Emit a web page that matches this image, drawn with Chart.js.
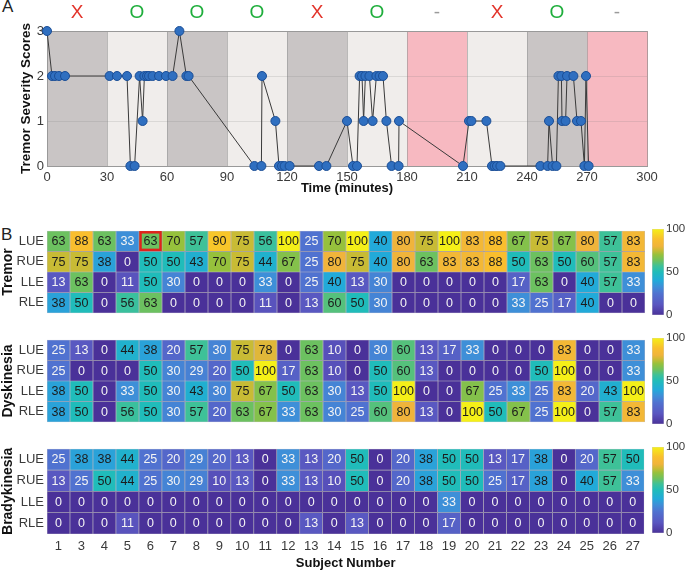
<!DOCTYPE html>
<html>
<head>
<meta charset="utf-8">
<script src="https://cdn.jsdelivr.net/npm/chart.js@4.4.1/dist/chart.umd.min.js"></script>
<style>
body { margin: 0; background: #fff; font-family: "Liberation Sans", Arial, sans-serif; }
#wrap { position: relative; width: 685px; height: 571px; overflow: hidden; }
canvas { position: absolute; }
.lbl { position: absolute; font-size: 17px; color: #222; }
</style>
</head>
<body>
<div id="wrap">
  <div class="lbl" style="left:2px;top:-3px">A</div>
  <div class="lbl" style="left:1px;top:225px">B</div>
  <canvas id="top" width="685" height="200" style="left:0;top:0"></canvas>
  <canvas id="hmTremor" width="645" height="104" style="left:0;top:220px"></canvas>
  <canvas id="cbTremor" width="45" height="104" style="left:640px;top:220px"></canvas>
  <canvas id="hmDysk" width="645" height="104" style="left:0;top:329px"></canvas>
  <canvas id="cbDysk" width="45" height="104" style="left:640px;top:329px"></canvas>
  <canvas id="hmBrady" width="645" height="133" style="left:0;top:438px"></canvas>
  <canvas id="cbBrady" width="45" height="104" style="left:640px;top:438px"></canvas>
</div>
<script>
// ---- panel A data ----
const times = [0, 2.5, 4, 6, 9, 31.3, 35, 40, 41.7, 43.8, 46.3, 47.8, 48.7, 50, 51, 52.8, 56, 59.5, 62.8, 66.2,
  69.7, 70.8, 103.7, 107.2, 107.5, 114.2, 116, 117.5, 118.8, 121.3, 136, 139.7, 150, 153, 155, 156.3, 157.5,
  158.3, 159.2, 161.2, 162.8, 164.7, 166.3, 168, 169.7, 172.3, 175.8, 176, 208, 211, 212.2, 219.7, 222.5, 223.8,
  225, 226.7, 246.7, 250.3, 251, 252.8, 254.7, 255.7, 257.2, 257.5, 259.3, 260, 263.2, 265, 267, 268.7, 269.5, 270.8];
const scores = [3, 2, 2, 2, 2, 2, 2, 2, 0, 0, 2, 1, 2, 2, 2, 2, 2, 2, 2, 3,
  2, 2, 0, 0, 2, 1, 0, 0, 0, 0, 0, 0, 1, 0, 0, 2, 2,
  1, 2, 2, 1, 2, 2, 2, 1, 0, 0, 1, 0, 1, 1, 1, 0, 0,
  0, 0, 0, 0, 1, 0, 0, 2, 2, 1, 1, 2, 2, 1, 1, 0, 2, 0];
const bandStarts = [0, 30, 60, 90, 120, 150, 180, 210, 240, 270];
const bandKinds = ['dark', 'light', 'dark', 'light', 'dark', 'light', 'pink', 'light', 'dark', 'pink'];
const bandMarks = ['X', 'O', 'O', 'O', 'X', 'O', '-', 'X', 'O', '-'];
const xTicksA = [0, 30, 60, 90, 120, 150, 180, 210, 240, 270, 300];

// ---- panel B data ----
const subjects = [1, 3, 4, 5, 6, 7, 8, 9, 10, 11, 12, 13, 14, 15, 16, 17, 18, 19, 20, 21, 22, 23, 24, 25, 26, 27];
const rowNames = ['LUE', 'RUE', 'LLE', 'RLE'];

const tremorLUE = [63, 88, 63, 33, 63, 70, 57, 90, 75, 56, 100, 25, 70, 100, 40, 80, 75, 100, 83, 88, 67, 75, 67, 80, 57, 83];
const tremorRUE = [75, 75, 38, 0, 50, 50, 43, 70, 75, 44, 67, 25, 80, 75, 40, 80, 63, 83, 83, 88, 50, 63, 50, 60, 57, 83];
const tremorLLE = [13, 63, 0, 11, 50, 30, 0, 0, 0, 33, 0, 25, 40, 13, 30, 0, 0, 0, 0, 0, 17, 63, 0, 40, 57, 33];
const tremorRLE = [38, 50, 0, 56, 63, 0, 0, 0, 0, 11, 0, 13, 60, 50, 30, 0, 0, 0, 0, 0, 33, 25, 17, 40, 0, 0];

const dyskLUE = [25, 13, 0, 44, 38, 20, 57, 30, 75, 78, 0, 63, 10, 0, 30, 60, 13, 17, 33, 0, 0, 0, 83, 0, 0, 33];
const dyskRUE = [25, 0, 0, 0, 50, 30, 29, 20, 50, 100, 17, 63, 10, 0, 50, 60, 13, 0, 0, 0, 0, 50, 100, 0, 0, 33];
const dyskLLE = [38, 50, 0, 33, 50, 30, 43, 30, 75, 67, 50, 63, 30, 13, 50, 100, 0, 0, 67, 25, 33, 25, 83, 20, 43, 100];
const dyskRLE = [38, 50, 0, 56, 50, 30, 57, 20, 63, 67, 33, 63, 30, 25, 60, 80, 13, 0, 100, 50, 67, 25, 100, 0, 57, 83];

const bradyLUE = [25, 38, 38, 44, 25, 20, 29, 20, 13, 0, 33, 13, 20, 50, 0, 20, 38, 50, 50, 13, 17, 38, 0, 20, 57, 50];
const bradyRUE = [13, 25, 50, 44, 25, 30, 29, 10, 13, 0, 33, 13, 10, 50, 0, 20, 38, 50, 50, 25, 17, 38, 0, 40, 57, 33];
const bradyLLE = [0, 0, 0, 0, 0, 0, 0, 0, 0, 0, 0, 0, 0, 0, 0, 0, 0, 33, 0, 0, 0, 0, 0, 0, 0, 0];
const bradyRLE = [0, 0, 0, 11, 0, 0, 0, 0, 0, 0, 0, 13, 0, 13, 0, 0, 0, 17, 0, 0, 0, 0, 0, 0, 0, 0];

const cbTicks = [0, 50, 100];
const highlight = { row: 'LUE', subject: 6 };

// ---- styling ----
Chart.defaults.font.family = '"Liberation Sans", Arial, sans-serif';
Chart.defaults.color = '#3a3a3a';

const bandColors = { dark: '#c9c5c5', light: '#f0edeb', pink: '#f7b9c1' };
const markColors = { 'X': '#e2332a', 'O': '#1fae3c', '-': '#9a9a9a' };

// parula-like map
const cmap = [
  [0, 74, 49, 153], [12, 90, 86, 192], [25, 80, 114, 208], [33, 62, 143, 216], [40, 34, 170, 217],
  [50, 32, 188, 186], [57, 62, 193, 152], [63, 108, 193, 96], [70, 150, 193, 60], [75, 200, 187, 53],
  [80, 240, 180, 59], [88, 249, 190, 46], [100, 245, 240, 24]
];
function colorFor(v) {
  for (let i = 1; i < cmap.length; i++) {
    if (v <= cmap[i][0]) {
      const a = cmap[i - 1], b = cmap[i];
      const t = (v - a[0]) / (b[0] - a[0]);
      const c = [1, 2, 3].map(k => Math.round(a[k] + (b[k] - a[k]) * t));
      return `rgb(${c[0]},${c[1]},${c[2]})`;
    }
  }
  return 'rgb(245,240,24)';
}

// ---- panel A ----
const bandsPlugin = {
  id: 'bands',
  beforeDraw(chart) {
    const { ctx, chartArea: a, scales: { x } } = chart;
    ctx.save();
    bandStarts.forEach((s, i) => {
      const x0 = x.getPixelForValue(s), x1 = x.getPixelForValue(s + 30);
      ctx.fillStyle = bandColors[bandKinds[i]];
      ctx.fillRect(x0, a.top, x1 - x0, a.bottom - a.top);
    });
    ctx.restore();
  },
  afterDraw(chart) {
    const { ctx, chartArea: a } = chart;
    ctx.save();
    ctx.strokeStyle = '#b09a9c';
    ctx.lineWidth = 1;
    ctx.beginPath();
    ctx.moveTo(a.right + 0.5, a.top);
    ctx.lineTo(a.right + 0.5, a.bottom);
    ctx.stroke();
    ctx.restore();
  }
};

new Chart(document.getElementById('top'), {
  type: 'scatter',
  data: {
    datasets: [{
      data: times.map((t, i) => ({ x: t, y: scores[i] })),
      showLine: true,
      clip: 8,
      borderColor: '#3a3a3a',
      borderWidth: 1,
      pointRadius: 4.5,
      pointBackgroundColor: '#2f6fc0',
      pointBorderColor: '#1b4e96',
      pointBorderWidth: 1
    }]
  },
  options: {
    responsive: false,
    animation: false,
    layout: { padding: { left: 0, right: 38, top: 0, bottom: 0 } },
    plugins: { legend: { display: false }, tooltip: { enabled: false } },
    scales: {
      x: {
        type: 'linear', min: 0, max: 300,
        afterBuildTicks(s) { s.ticks = xTicksA.map(v => ({ value: v })); },
        ticks: { padding: 4, font: { size: 13 } },
        grid: { color: 'rgba(150,150,150,0.6)', drawTicks: false },
        border: { display: true, color: '#999' },
        title: { display: true, text: 'Time (minutes)', color: '#111', font: { size: 13, weight: 'bold' }, padding: { top: 0, bottom: 4 } },
        afterFit(s) { s.height = 34; }
      },
      x2: {
        type: 'linear', position: 'top', min: 0, max: 300,
        afterBuildTicks(s) { s.ticks = bandStarts.map(v => ({ value: v + 15 })); },
        ticks: {
          callback: (v, i) => bandMarks[i],
          color: (c) => markColors[bandMarks[c.index]],
          font: { size: 19 },
          padding: 7,
          autoSkip: false
        },
        grid: { display: false, drawTicks: false },
        border: { display: true, color: '#999' },
        afterFit(s) { s.height = 31; }
      },
      y: {
        min: 0, max: 3,
        ticks: { stepSize: 1, padding: 3, font: { size: 13 } },
        grid: { color: 'rgba(120,120,120,0.18)', drawTicks: false },
        border: { display: true, color: '#999' },
        title: { display: true, text: 'Tremor Severity Scores', color: '#111', font: { size: 13.5, weight: 'bold' }, padding: { top: 18, bottom: 0 } },
        afterFit(s) { s.width = 47; }
      }
    }
  },
  plugins: [bandsPlugin]
});

// ---- panel B ----
const cellText = {
  id: 'cellText',
  afterDatasetsDraw(chart, args, opts) {
    const ctx = chart.ctx;
    ctx.save();
    ctx.font = '12.5px "Liberation Sans", Arial, sans-serif';
    ctx.textAlign = 'center';
    ctx.textBaseline = 'middle';
    chart.data.datasets.forEach((ds, di) => {
      chart.getDatasetMeta(di).data.forEach((el, i) => {
        const v = ds.values[i];
        ctx.fillStyle = v >= 35 ? '#1c1c1c' : '#f4f4f4';
        ctx.fillText(String(v), el.x, (el.y + el.base) / 2 + 0.5);
      });
    });
    if (opts.mark) {
      const di = rowNames.indexOf(opts.mark.row);
      const el = chart.getDatasetMeta(di).data[subjects.indexOf(opts.mark.subject)];
      ctx.strokeStyle = '#e0221c';
      ctx.lineWidth = 2.5;
      ctx.strokeRect(el.x - el.width / 2 + 1.5, el.y + 1.5, el.width - 3, el.base - el.y - 3);
    }
    ctx.restore();
  }
};

function heatmap(id, title, rows, showX, mark) {
  new Chart(document.getElementById(id), {
    type: 'bar',
    data: {
      labels: subjects.map(String),
      datasets: rows.map((vals, r) => ({
        data: vals.map(() => [3 - r, 4 - r]),
        values: vals,
        backgroundColor: vals.map(colorFor),
        borderColor: 'rgba(40,30,70,0.28)',
        borderWidth: 0.7,
        borderSkipped: false,
        grouped: false,
        barPercentage: 1,
        categoryPercentage: 1
      }))
    },
    options: {
      responsive: false,
      animation: false,
      layout: { padding: { left: 0, right: 0, top: 8, bottom: showX ? 0 : 8 } },
      plugins: { legend: { display: false }, tooltip: { enabled: false }, cellText: { mark: mark } },
      scales: {
        x: {
          display: showX,
          grid: { display: false, drawTicks: false },
          border: { display: false },
          ticks: { padding: 5, font: { size: 13 }, maxRotation: 0, autoSkip: false },
          title: { display: true, text: 'Subject Number', color: '#111', font: { size: 13, weight: 'bold' }, padding: { top: 0, bottom: 0 } },
          afterFit(s) { if (showX) s.height = 37; }
        },
        y: {
          min: 0, max: 4,
          afterBuildTicks(s) { s.ticks = [0.5, 1.5, 2.5, 3.5].map(v => ({ value: v })); },
          ticks: { callback: (v) => rowNames[3 - Math.floor(v)], padding: 3, font: { size: 13 } },
          grid: { display: false, drawTicks: false },
          border: { display: false },
          title: { display: true, text: title, color: '#111', font: { size: 14, weight: 'bold' }, padding: { top: 0, bottom: 0 } },
          afterFit(s) { s.width = 47; }
        }
      }
    },
    plugins: [cellText]
  });
}

function colorbar(id) {
  new Chart(document.getElementById(id), {
    type: 'bar',
    data: {
      labels: [''],
      datasets: [{
        data: [[0, 100]],
        backgroundColor: (c) => {
          const a = c.chart.chartArea;
          if (!a) return null;
          const g = c.chart.ctx.createLinearGradient(0, a.bottom, 0, a.top);
          cmap.forEach(s => g.addColorStop(s[0] / 100, `rgb(${s[1]},${s[2]},${s[3]})`));
          return g;
        },
        borderColor: '#cfcfcf',
        borderWidth: 0.7,
        borderSkipped: false,
        barPercentage: 1,
        categoryPercentage: 1
      }]
    },
    options: {
      responsive: false,
      animation: false,
      layout: { padding: { left: 12, right: 0, top: 8, bottom: 8 } },
      plugins: { legend: { display: false }, tooltip: { enabled: false } },
      scales: {
        x: { display: false },
        y: {
          position: 'right', min: 0, max: 100,
          afterBuildTicks(s) { s.ticks = cbTicks.map(v => ({ value: v })); },
          ticks: { padding: 2, font: { size: 11.5 } },
          grid: { display: false, drawTicks: false },
          border: { display: false },
          afterFit(s) { s.width = 21; }
        }
      }
    }
  });
}

heatmap('hmTremor', 'Tremor', [tremorLUE, tremorRUE, tremorLLE, tremorRLE], false, highlight);
heatmap('hmDysk', 'Dyskinesia', [dyskLUE, dyskRUE, dyskLLE, dyskRLE], false, null);
heatmap('hmBrady', 'Bradykinesia', [bradyLUE, bradyRUE, bradyLLE, bradyRLE], true, null);
colorbar('cbTremor');
colorbar('cbDysk');
colorbar('cbBrady');
</script>
</body>
</html>
